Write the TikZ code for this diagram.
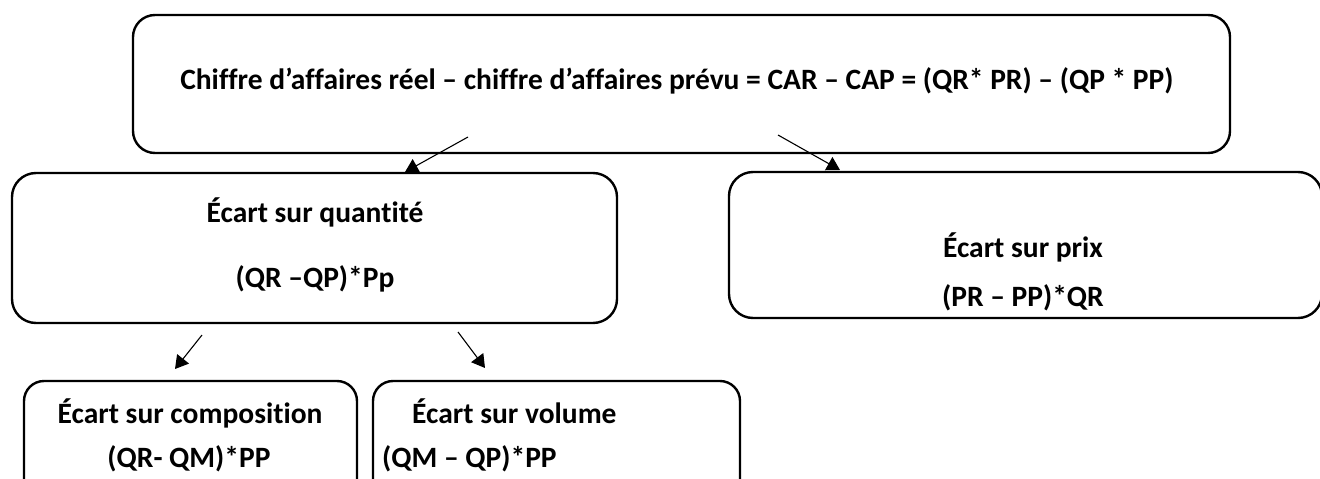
\documentclass[tikz,border=0pt]{standalone}
\usepackage{fontspec}
\setmainfont[Ligatures=NoCommon]{Carlito}
\usetikzlibrary{arrows.meta}
\begin{document}
\begin{tikzpicture}[x=1pt,y=-1pt,
  box/.style={draw,line width=2.4pt,rounded corners=24pt,inner sep=0pt},
  txt/.style={inner sep=0pt,font=\fontsize{29.5}{34}\selectfont\bfseries},
  link/.style={line width=1.1pt,-{Triangle[width=15pt,length=13pt]}}]
  \useasboundingbox (0,0) rectangle (1320,479);
  \clip (0,0) rectangle (1320,479);
  % boxes
  \draw[box,rounded corners=22pt] (133,15) rectangle (1230,153);
  \draw[box] (12,173) rectangle (617,323);
  \draw[box] (729,172) rectangle (1322,318);
  \draw[box,rounded corners=20pt] (24,381) rectangle (357,510);
  \draw[box,rounded corners=20pt] (373,381) rectangle (740,510);
  % texts
  \node[txt,anchor=base] (t0) at (677,89) {Chiffre d’affaires réel – chiffre d’affaires prévu = CAR – CAP = (QR* PR) – (QP * PP)};
  \node[txt,anchor=base] (q1) at (315,222) {Écart sur quantité};
  \node[txt,anchor=base] (q2) at (315,287) {(QR –QP)*Pp};
  \node[txt,anchor=base] (p1) at (1023,257) {Écart sur prix};
  \node[txt,anchor=base] (p2) at (1023,306) {(PR – PP)*QR};
  \node[txt,anchor=base] (c1) at (190,423) {Écart sur composition};
  \node[txt,anchor=base] (c2) at (189,467) {(QR- QM)*PP};
  \node[txt,anchor=base west] (v1) at (412,423) {Écart sur volume};
  \node[txt,anchor=base west] (v2) at (382,467) {(QM – QP)*PP};
  % connectors
  \coordinate (s1) at (468,137);
  \coordinate (e1) at (405,172);
  \coordinate (s2) at (778,135);
  \coordinate (e2) at (840,170);
  \coordinate (s3) at (202,335);
  \coordinate (e3) at (175,369);
  \coordinate (s4) at (458,332);
  \coordinate (e4) at (485,368);
  \draw[link] (s1) -- (e1);
  \draw[link] (s2) -- (e2);
  \draw[link] (s3) -- (e3);
  \draw[link] (s4) -- (e4);
\end{tikzpicture}
\end{document}
